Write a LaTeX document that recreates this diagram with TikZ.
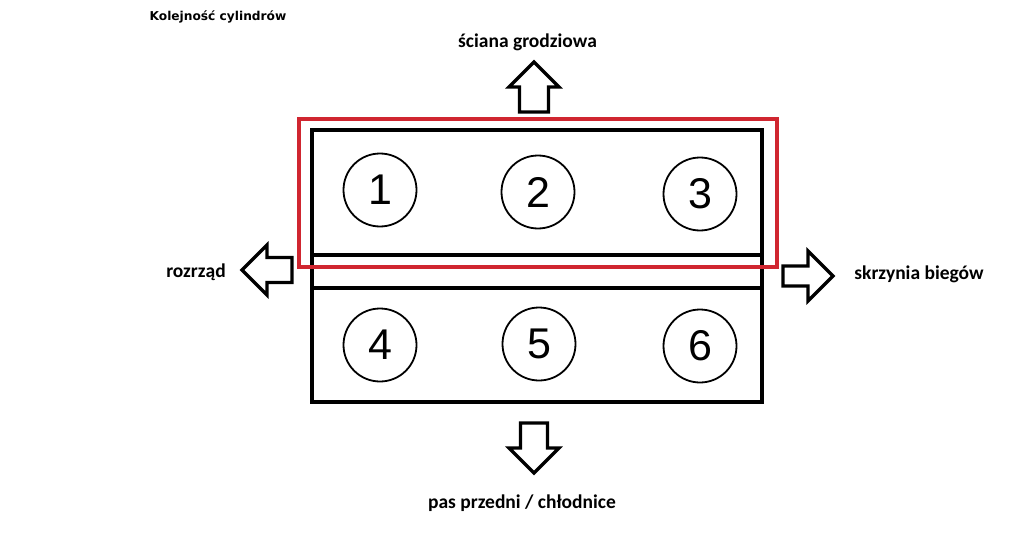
\documentclass[tikz,border=0pt]{standalone}
\usepackage{fontspec}
\setmainfont{Carlito}
\newfontfamily\titlefont{DejaVu Sans}
\newfontfamily\digitfont{Liberation Sans}
\usepackage{xcolor}
\usepackage{tikz}
\usetikzlibrary{positioning}
\definecolor{frameRed}{RGB}{208,38,48}
\def\cylR{73pt}
\newcommand{\blockarrow}[3]{%
% #1 = tip, #2 = direction (0=right, 90=up, 180=left, -90=down), #3 = half shaft
\draw[arrowline, shift={#1}, rotate=#2]
(0,0) -- (-25,25) -- (-25,#3) -- (-50,#3)
-- (-50,-#3) -- (-25,-#3) -- (-25,-25) -- cycle;
}

\begin{document}
\begin{tikzpicture}[
    x=1pt, y=-1pt,
    bank/.style={line width=4pt, line join=miter},
    arrowline/.style={line width=3.3pt, line join=miter},
    cyl/.style={circle, draw, line width=1.8pt, minimum size=\cylR, inner sep=0pt,
        font=\digitfont\fontsize{43}{43}\selectfont},
    lbl/.style={anchor=base, font=\bfseries\fontsize{19.5}{23}\selectfont}
]
\useasboundingbox (0,0) rectangle (1024,556);
\fill[white] (0,0) rectangle (1024,556);

% engine block
\draw[bank] (312,130) rectangle (762,402);
\draw[bank] (312,255) -- (762,255);
\draw[bank] (312,288) -- (762,288);
\draw[frameRed, line width=4pt] (299,119) rectangle (777,267);

% cylinders
\node[cyl] (c1) at (380,190) {1};
\node[cyl] (c2) at (538,192) {2};
\node[cyl] (c3) at (700,194) {3};
\node[cyl] (c4) at (380,345) {4};
\node[cyl] (c5) at (539,344) {5};
\node[cyl] (c6) at (700,346) {6};

% direction arrows
\blockarrow{(534,62)}{90}{14.5}
\blockarrow{(534,473)}{-90}{13.5}
\blockarrow{(242,270)}{180}{12.5}
\blockarrow{(833,276)}{0}{10}

% labels
\node[anchor=base, font=\titlefont\bfseries\fontsize{12.2}{14}\selectfont] (title) at (218,21) {Kolejność cylindrów};
\node[lbl] (wall) at (527.5,48) {ściana grodziowa};
\node[lbl] (front) at (522,508) {pas przedni / chłodnice};
\node[lbl] (timing) at (196,277) {rozrząd};
\node[lbl] (gearbox) at (919,279) {skrzynia biegów};
\end{tikzpicture}
\end{document}
